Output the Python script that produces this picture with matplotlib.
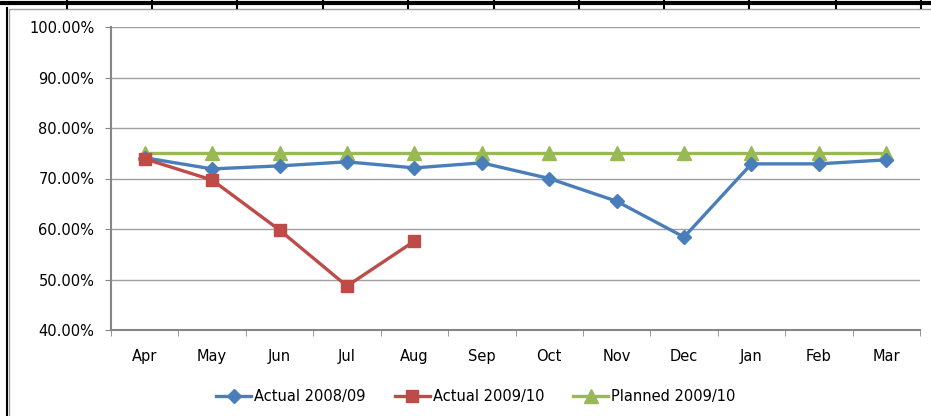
import numpy as np
import matplotlib.pyplot as plt
from matplotlib.lines import Line2D
from matplotlib.patches import Rectangle
from matplotlib.ticker import FuncFormatter, FixedLocator

# Dati
mesi = ["Apr", "May", "Jun", "Jul", "Aug", "Sep", "Oct", "Nov", "Dec", "Jan", "Feb", "Mar"]
actual_0809 = [74.1, 71.9, 72.5, 73.3, 72.1, 73.1, 70.0, 65.5, 58.4, 72.9, 72.9, 73.7]
actual_0910 = [73.9, 69.7, 59.8, 48.7, 57.6]
planned_0910 = [75.0] * 12

blu = "#4a7ebb"
rosso = "#be4b48"
verde = "#98b954"

plt.rcParams["font.family"] = ["DejaVu Sans"]
fig = plt.figure(figsize=(9.31, 4.16), dpi=100)

# Bordo del foglio di calcolo e della cornice del grafico
fig.add_artist(Line2D([0, 1], [1 - 3 / 416, 1 - 3 / 416], color="black", lw=3))
for xc in [67, 152, 237, 323, 408, 494, 579, 664, 749, 836, 921]:
    fig.add_artist(Line2D([xc / 931, xc / 931], [1 - 8 / 416, 1], color="black", lw=1.5))
fig.add_artist(Line2D([7 / 931, 7 / 931], [0, 1 - 8 / 416], color="black", lw=1.5))
fig.add_artist(Rectangle((9 / 931, -0.01), 1, 1 - 9 / 416 + 0.01, fill=False,
                         edgecolor="#a0a0a0", lw=1))

ax = fig.add_axes([111 / 931, 1 - 330 / 416, 809 / 931, 303 / 416])
x = np.arange(len(mesi))
ax.plot(x, actual_0809, color=blu, lw=2.4, marker="D", ms=7, label="Actual 2008/09", zorder=3)
ax.plot(x[:len(actual_0910)], actual_0910, color=rosso, lw=2.4, marker="s", ms=9,
        label="Actual 2009/10", zorder=4)
ax.plot(x, planned_0910, color=verde, lw=2.4, marker="^", ms=10, label="Planned 2009/10", zorder=2)

ax.set_xlim(-0.5, len(mesi) - 0.5)
ax.set_ylim(40, 100)
ax.set_yticks(np.arange(40, 101, 10))
ax.yaxis.set_major_formatter(FuncFormatter(lambda v, p: f"{v:.2f}%"))
ax.grid(axis="y", color="#a0a0a0", lw=1)
ax.set_axisbelow(True)

ax.set_xticks(x)
ax.set_xticklabels(mesi)
ax.xaxis.set_minor_locator(FixedLocator(np.arange(-0.5, len(mesi), 1)))
ax.tick_params(axis="x", which="major", length=0, pad=14, labelsize=10.5)
ax.tick_params(axis="x", which="minor", length=4, color="#868686", direction="out")
ax.tick_params(axis="y", length=4, color="#868686", labelsize=10.5, pad=8)

for s in ["top", "right"]:
    ax.spines[s].set_visible(False)
for s in ["left", "bottom"]:
    ax.spines[s].set_color("#868686")
    ax.spines[s].set_linewidth(1.5)

fig.legend(loc="center", bbox_to_anchor=(476 / 931, 1 - 397 / 416), ncol=3, frameon=False,
           fontsize=10.5, handlelength=2.4, columnspacing=2.0, handletextpad=0.2)

plt.savefig("out.png", dpi=100)
